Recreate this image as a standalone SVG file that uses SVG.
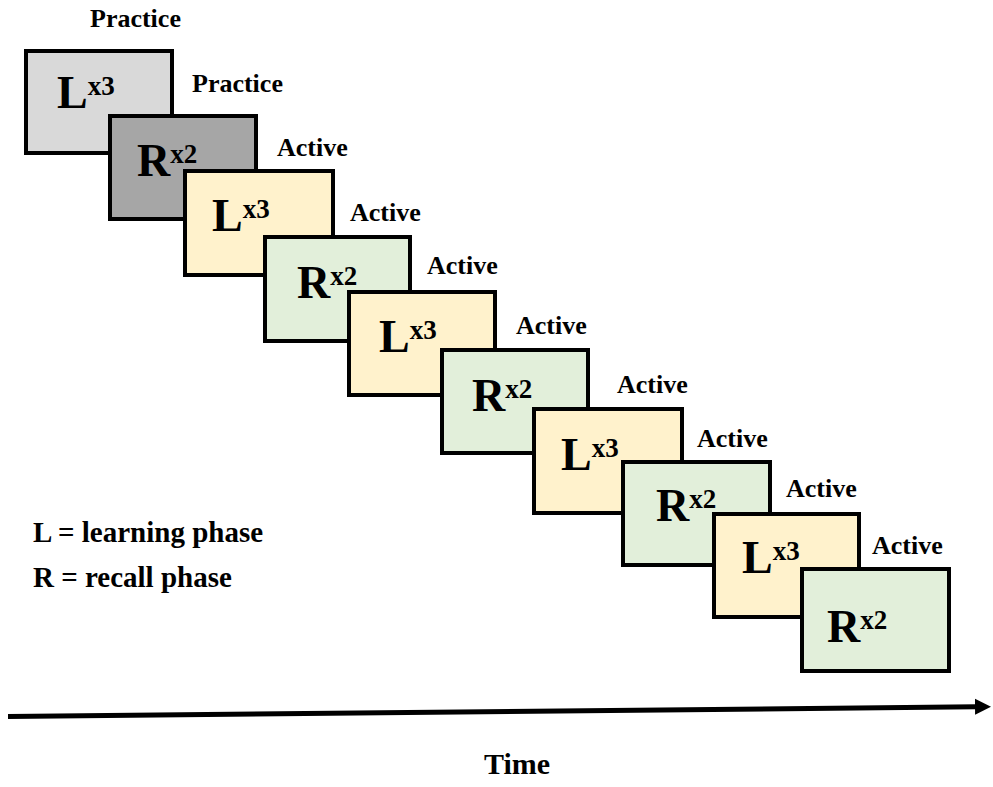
<svg xmlns="http://www.w3.org/2000/svg" width="993" height="787" viewBox="0 0 993 787">
<style>
text{font-family:"Liberation Serif","Times New Roman",serif;font-weight:bold;fill:#000}
.box{stroke:#000;stroke-width:4}
.g1{fill:#d9d9d9}.g2{fill:#a6a6a6}.y{fill:#fff2cc}.gr{fill:#e2efda}
.big{font-size:46px}
.sup{font-size:27px}
.lbl{font-size:26px}
.leg{font-size:29px}
.time{font-size:30px}
</style>
<defs>
<marker id="ah" markerWidth="4" markerHeight="4" refX="0.2" refY="2" orient="auto" markerUnits="strokeWidth" viewBox="0 0 4 4">
<path d="M0,0.4 L3.2,2 L0,3.6 Z" fill="#000"/>
</marker>
</defs>
<rect width="993" height="787" fill="#fff"/>
<g id="labels">
<text class="lbl" x="90" y="27">Practice</text>
<text class="lbl" x="192" y="92">Practice</text>
<text class="lbl" x="277" y="156">Active</text>
<text class="lbl" x="350" y="221">Active</text>
<text class="lbl" x="427" y="274">Active</text>
<text class="lbl" x="516" y="334">Active</text>
<text class="lbl" x="617" y="393">Active</text>
<text class="lbl" x="697" y="447">Active</text>
<text class="lbl" x="786" y="497">Active</text>
<text class="lbl" x="872" y="554">Active</text>
</g>
<g id="n1"><rect class="box g1" x="26" y="51" width="146" height="102"/><text class="big" x="57" y="108">L<tspan class="sup" dy="-13">x3</tspan></text></g>
<g id="n2"><rect class="box g2" x="110" y="116" width="146" height="103"/><text class="big" x="137" y="176">R<tspan class="sup" dy="-13">x2</tspan></text></g>
<g id="n3"><rect class="box y" x="185" y="171" width="148" height="104"/><text class="big" x="212" y="231">L<tspan class="sup" dy="-13">x3</tspan></text></g>
<g id="n4"><rect class="box gr" x="265" y="237" width="145" height="104"/><text class="big" x="297" y="298">R<tspan class="sup" dy="-13">x2</tspan></text></g>
<g id="n5"><rect class="box y" x="349" y="292" width="146" height="103"/><text class="big" x="379" y="352">L<tspan class="sup" dy="-13">x3</tspan></text></g>
<g id="n6"><rect class="box gr" x="442" y="350" width="146" height="103"/><text class="big" x="472" y="411">R<tspan class="sup" dy="-13">x2</tspan></text></g>
<g id="n7"><rect class="box y" x="534" y="409" width="148" height="104"/><text class="big" x="561" y="470">L<tspan class="sup" dy="-13">x3</tspan></text></g>
<g id="n8"><rect class="box gr" x="623" y="462" width="147" height="103"/><text class="big" x="656" y="521">R<tspan class="sup" dy="-13">x2</tspan></text></g>
<g id="n9"><rect class="box y" x="714" y="514" width="145" height="103"/><text class="big" x="742" y="573">L<tspan class="sup" dy="-13">x3</tspan></text></g>
<g id="n10"><rect class="box gr" x="802" y="569" width="147" height="102"/><text class="big" x="827" y="642">R<tspan class="sup" dy="-13">x2</tspan></text></g>
<g id="legend">
<text class="leg" x="33" y="542">L = learning phase</text>
<text class="leg" x="33" y="587">R = recall phase</text>
</g>
<g id="connectors">
<line x1="8" y1="716.5" x2="976" y2="706.8" stroke="#000" stroke-width="5" marker-end="url(#ah)"/>
</g>
<text class="time" x="517" y="774" text-anchor="middle">Time</text>
</svg>
